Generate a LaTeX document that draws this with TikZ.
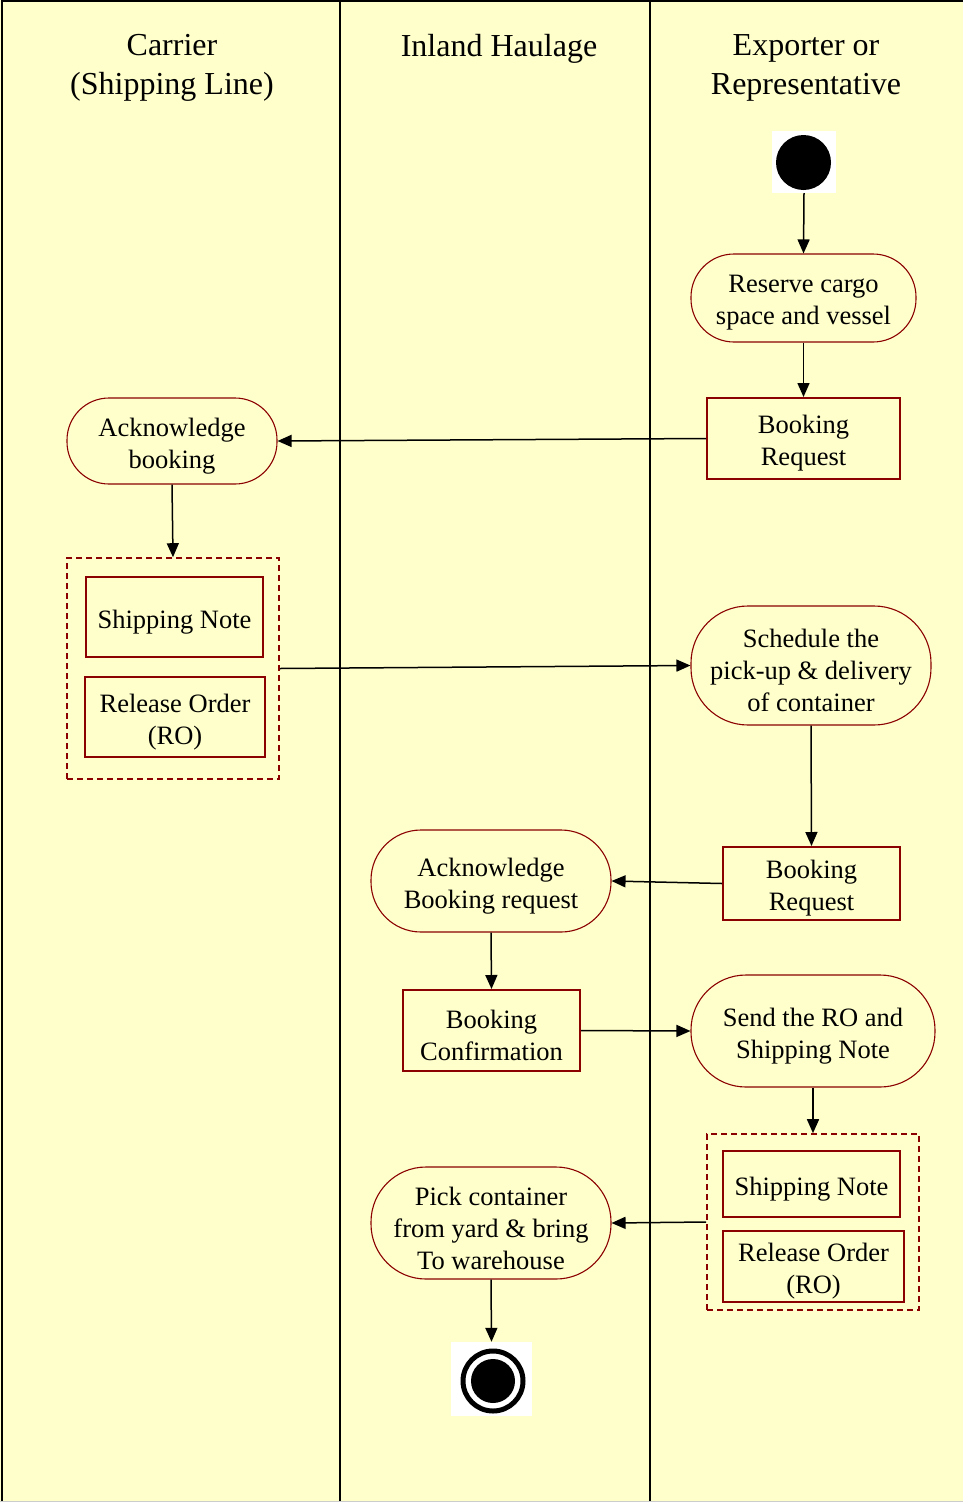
\documentclass[tikz,border=0pt]{standalone}
\usepackage{fontspec}
\setmainfont{Liberation Serif}
\usetikzlibrary{arrows.meta}
\definecolor{lanebg}{HTML}{FFFFCC}
\definecolor{boxred}{HTML}{8B0000}
\begin{document}
\begin{tikzpicture}[x=1pt,y=-1pt,
 txt/.style={font=\fontsize{26.5}{32}\selectfont, align=center, text=black, inner sep=0pt, yshift=-5pt},
 act/.style={draw=boxred, line width=1.1pt, fill=lanebg, inner sep=0pt},
 doc/.style={draw=boxred, line width=2pt, fill=lanebg, inner sep=0pt},
 grp/.style={draw=boxred, line width=1.6pt, inner sep=0pt, dash pattern=on 6pt off 4pt},
 arr/.style={line width=1.5pt, -{Triangle[length=14pt,width=12pt]}},
 lane/.style={line width=2pt},
 hdr/.style={font=\fontsize{32}{39}\selectfont, align=center, text=black}]

\fill[lanebg] (0,0) rectangle (963,1502);
\useasboundingbox (0,0) rectangle (963,1502);
\draw[lane] (2,1502) -- (2,1) -- (963,1);
\draw[lane] (340,1) -- (340,1502);
\draw[lane] (650,1) -- (650,1502);
\draw[gray!40, line width=1pt] (0,1501) -- (963,1501);

\node[hdr] (h1) at (172,68) {Carrier\\(Shipping Line)};
\node[hdr] (h2) at (499,49) {Inland Haulage};
\node[hdr] (h3) at (806,68) {Exporter or\\Representative};

\node[fill=white, minimum width=64pt, minimum height=62pt, inner sep=0pt] (startsq) at (804,162) {};
\node[circle, fill=black, minimum size=55pt, inner sep=0pt] (start) at (803.5,162.5) {};

\node[act, rounded corners=43pt, minimum width=225pt, minimum height=88pt,
  label={[txt]center:Reserve cargo\\space and vessel}] (reserve) at (803.5,298) {};
\node[doc, minimum width=193pt, minimum height=81pt,
  label={[txt]center:Booking\\Request}] (br1) at (803.5,438.5) {};
\node[act, rounded corners=42pt, minimum width=210pt, minimum height=86pt,
  label={[txt]center:Acknowledge\\booking}] (ack1) at (172,441) {};

\node[grp, minimum width=212pt, minimum height=221pt] (dash1) at (173,668.5) {};
\node[doc, minimum width=177pt, minimum height=80pt,
  label={[txt]center:Shipping Note}] (sn1) at (174.5,617) {};
\node[doc, minimum width=180pt, minimum height=80pt,
  label={[txt]center:Release Order\\(RO)}] (ro1) at (175,717) {};

\node[act, rounded corners=57pt, minimum width=240pt, minimum height=119pt,
  label={[txt]center:Schedule the\\pick-up \& delivery\\of container}] (sched) at (811,665.5) {};
\node[doc, minimum width=177pt, minimum height=73pt,
  label={[txt]center:Booking\\Request}] (br2) at (811.5,883.5) {};
\node[act, rounded corners=50pt, minimum width=240pt, minimum height=102pt,
  label={[txt]center:Acknowledge\\Booking request}] (ackbr) at (491,881) {};
\node[doc, minimum width=177pt, minimum height=81pt,
  label={[txt]center:Booking\\Confirmation}] (bc) at (491.5,1030.5) {};
\node[act, rounded corners=55pt, minimum width=244pt, minimum height=112pt,
  label={[txt]center:Send the RO and\\Shipping Note}] (send) at (813,1031) {};

\node[grp, minimum width=212pt, minimum height=176pt] (dash2) at (813,1222) {};
\node[doc, minimum width=177pt, minimum height=66pt,
  label={[txt]center:Shipping Note}] (sn2) at (811.5,1184) {};
\node[doc, minimum width=181pt, minimum height=71pt,
  label={[txt]center:Release Order\\(RO)}] (ro2) at (813.5,1266.5) {};

\node[act, rounded corners=55pt, minimum width=240pt, minimum height=112pt,
  label={[txt]center:Pick container\\from yard \& bring\\To warehouse}] (pick) at (491,1223) {};

\node[fill=white, minimum width=81pt, minimum height=74pt, inner sep=0pt] (endsq) at (491.5,1379) {};
\node[circle, draw=black, line width=5pt, minimum size=60pt, inner sep=0pt] (endring) at (493,1381) {};
\node[circle, fill=black, minimum size=44pt, inner sep=0pt] (enddot) at (493,1381) {};

\draw[arr] (startsq.south) -- (reserve.north);
\draw[arr] (reserve.south) -- (br1.north);
\draw[arr] (br1.west) -- (ack1.east);
\draw[arr] (ack1.south) -- (dash1.north);
\draw[arr] (dash1.east) -- (sched.west);
\draw[arr] (sched.south) -- (br2.north);
\draw[arr] (br2.west) -- (ackbr.east);
\draw[arr] (ackbr.south) -- (bc.north);
\draw[arr] (bc.east) -- (send.west);
\draw[arr] (send.south) -- (dash2.north);
\draw[arr] (dash2.west) -- (pick.east);
\draw[arr] (pick.south) -- (endsq.north);
\end{tikzpicture}
\end{document}
